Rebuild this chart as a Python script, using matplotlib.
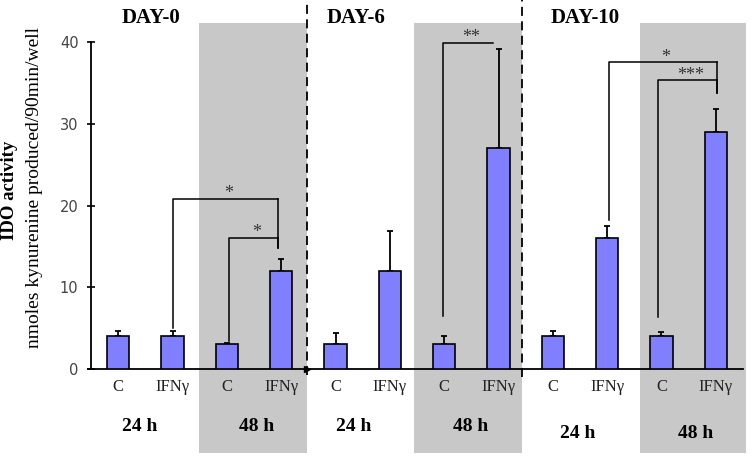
import matplotlib
matplotlib.use("Agg")
import matplotlib.pyplot as plt
from matplotlib.patches import Rectangle
from matplotlib.transforms import blended_transform_factory
import numpy as np

# data (nmoles kynurenine / 90 min / well)
days = ["DAY-0", "DAY-6", "DAY-10"]
treatments = ["C", "IFN\u03b3", "C", "IFN\u03b3"]
times = ["24 h", "48 h"]
day0_mean = [4.0, 4.0, 3.0, 12.0]
day0_err = [0.7, 0.7, 0.2, 1.5]
day6_mean = [3.0, 12.0, 3.0, 27.0]
day6_err = [1.4, 4.9, 1.0, 12.2]
day10_mean = [4.0, 16.0, 4.0, 29.0]
day10_err = [0.7, 1.5, 0.55, 2.8]

# significance brackets: (left bar, right bar, height, left leg end, right leg end, label)
brackets = [
    (1, 2.95, 20.8, 5.0, 14.8, "*"),
    (2.04, 2.95, 16.0, 3.4, 14.8, "*"),
    (5.98, 6.9, 39.9, 6.5, None, "**"),
    (9.04, 11.02, 37.5, 18.2, 33.8, "*"),
    (9.94, 11.02, 35.3, 6.4, 33.8, "***"),
]

means = day0_mean + day6_mean + day10_mean
errs = day0_err + day6_err + day10_err
x = np.arange(len(means))

serif = "Liberation Serif"
fig = plt.figure(figsize=(7.51, 4.57), dpi=100)
ax = fig.add_axes([91 / 751, 88 / 457, 652 / 751, 327 / 457])
ax.set_xlim(-0.5, 11.5)
ax.set_ylim(0, 40)
trans = blended_transform_factory(ax.transData, ax.transAxes)

# grey 48 h panels and dashed day separators
for x0, x1 in [(1.49, 3.47), (5.44, 7.43), (9.6, 11.56)]:
    ax.add_patch(Rectangle((x0, -0.257), x1 - x0, 1.315, transform=trans,
                           facecolor="#c8c8c8", edgecolor="none", zorder=0, clip_on=False))
for xd, yb in [(3.47, -0.018), (7.43, -0.024)]:
    ax.plot([xd, xd], [yb, 1.128], transform=trans, color="black", lw=1.3,
            ls=(0, (5, 3)), clip_on=False, zorder=1)
ax.plot([3.47], [0], marker=">", color="black", ms=5, clip_on=False, zorder=4)

ax.bar(x, means, width=0.41, color="#8080ff", edgecolor="black", lw=1.2, zorder=3)
ax.errorbar(x, means, yerr=[np.zeros(len(errs)), errs], fmt="none", ecolor="black",
            elinewidth=1.3, capsize=2.5, capthick=1.3, zorder=2)

for xl, xr, h, yl, yr, lab in brackets:
    ax.plot([xl, xl, xr], [yl, h, h], color="black", lw=1.1, zorder=2, clip_on=False)
    if yr is not None:
        ax.plot([xr, xr], [h, yr], color="black", lw=1.1, zorder=2)
    ax.text((xl + xr) / 2 + 0.05, h + 0.1, lab, ha="center", va="baseline",
            fontsize=13, family=serif, color="#333333")

for sp in ["top", "right"]:
    ax.spines[sp].set_visible(False)
ax.spines["left"].set_linewidth(1.3)
ax.spines["bottom"].set_linewidth(1.3)
ax.spines["bottom"].set_bounds(-0.55, 11.5)

ax.set_yticks([0, 10, 20, 30, 40])
ax.tick_params(axis="y", direction="inout", length=6, width=1.2, labelsize=10.5,
               labelcolor="#444444", pad=6)
ax.set_xticks(x)
ax.set_xticklabels(treatments * 3, family=serif, fontsize=12, color="#222222")
ax.tick_params(axis="x", length=0, pad=7)

# day titles and time labels
for xt, d in zip([0.61, 4.37, 8.6], days):
    ax.text(xt, 1.073, d, transform=trans, ha="center", va="center",
            fontsize=15, fontweight="bold", family=serif)
for xt, yt, t in zip([0.39, 2.54, 4.34, 6.48, 8.46, 10.63],
                     [-0.177, -0.177, -0.177, -0.177, -0.196, -0.196], times * 3):
    ax.text(xt, yt, t, transform=trans, ha="center", va="center",
            fontsize=14, fontweight="bold", family=serif)

fig.text(10 / 751, 1 - 190 / 457, "IDO activity", rotation=90, ha="center", va="center",
         fontsize=13.5, fontweight="bold", family=serif)
fig.text(35 / 751, 1 - 188 / 457, "nmoles kynurenine produced/90min/well", rotation=90,
         ha="center", va="center", fontsize=14, family=serif)

fig.savefig("out.png", dpi=100)
